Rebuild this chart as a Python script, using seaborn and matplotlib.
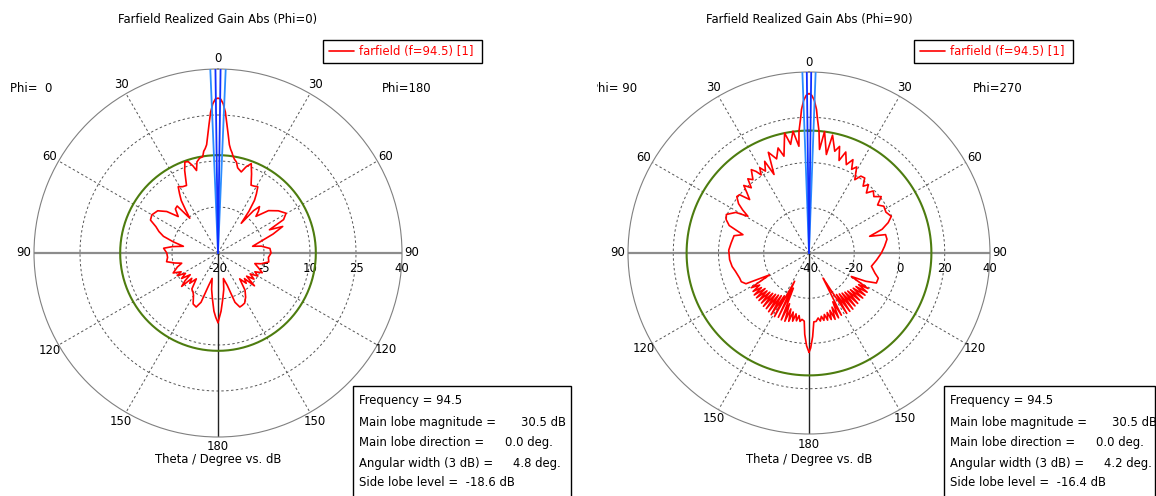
import numpy as np
import matplotlib
matplotlib.use("Agg")
import matplotlib.pyplot as plt
import seaborn as sns
import pandas as pd
from matplotlib.transforms import Bbox

sns.set_style("white")
plt.rcParams['font.family'] = ['DejaVu Sans']
plt.rcParams['text.color'] = 'black'

# ============================
# Data
# ============================
# cut Phi=0 / Phi=180 (negative angles = Phi=0 side)
theta_phi0 = [-180, -178, -176, -173, -170, -167, -164, -161, -158, -154, -150, -148, -144, -140,
              -137, -134, -132.6, -130, -128, -125, -122, -119, -117, -114, -109, -105.7, -103,
              -99.6, -95, -90, -85, -82, -79, -76, -73, -70, -67, -64, -60, -55, -51, -47.5, -44,
              -41, -39, -37, -35, -33, -31, -28, -25, -22, -20, -18, -16, -14.6, -13, -11, -9, -8,
              -7, -6, -5, -4, -3, -2, -1, 0,
              1, 2, 3, 4, 5, 6, 7, 8, 8.7, 10, 11.4, 13, 16, 18, 20.4, 23, 26, 28.5, 31, 33, 34.7,
              36.5, 38, 40, 41.8, 44, 46, 50, 55, 59.7, 63, 65.7, 67.7, 71, 75, 79, 81, 85, 90, 95,
              100, 104, 106, 110, 114, 117, 120, 123, 126, 129, 132, 134, 137, 140, 144, 148, 152,
              155, 158, 161, 164, 168, 171, 174, 177, 180]
gain_phi0 = [2.7, 1.0, -1.0, -5.0, -8.0, -11.5, -9.0, -3.0, -1.0, -1.5, -4.0, -4.7, -5.5, -9.0,
             -6.5, -8.1, -3.9, -6.0, -8.5, -5.5, -7.5, -4.8, -6.5, -4.0, -6.0, -7.7, -5.5,
             -3.0, -3.5, -3.3, -2.2, -5.0, -8.5, -5.0, -1.4, 0.5, 2.0, 4.5, 4.9, 4.0, 1.5, -2.4, 0.0,
             0.3, -5.4, -2.5, 0.9, 3.0, 5.2, 4.5, 4.3, 9.0, 11.6, 11.3, 9.5, 7.8, 10.5, 11.5, 11.8, 13.5,
             14.3, 15.5, 18.5, 22.0, 26.0, 28.7, 30.2, 30.5,
             30.2, 28.7, 26.0, 22.0, 18.5, 15.5, 14.0, 13.0, 12.1, 11.0, 10.3, 8.5, 7.5, 9.5, 11.1, 8.0,
             4.6, 4.8, 5.2, 3.0, 0.9, -3.0, -7.7, -2.0, 0.3, -1.0, -2.8, 1.5, 4.0, 5.7, 4.0, -1.6, 2.8,
             -1.0, -5.7, -8.5, -5.7, -3.0, -2.7, -3.5, -3.2, -5.5, -7.5, -6.0, -4.2, -6.5, -5.0, -7.5,
             -5.5, -8.0, -4.0, -8.0, -6.5, -9.0, -5.0, -3.0, -1.5, -1.2, -1.0, -3.0, -9.0, -11.5, -8.0,
             -5.0, -1.0, 2.7]

# cut Phi=90 / Phi=270 (negative angles = Phi=90 side)
theta_phi90 = [-180, -178.5, -177, -176, -174, -172.5, -171, -169.5, -168, -166.5, -165, -163.5,
               -162, -160.5, -159, -157.5, -156, -154.5, -153, -151.5, -150, -148.5, -147, -145.5,
               -144, -142.5, -141, -139.5, -138, -136.5, -135, -133.5, -132, -130.5, -129, -127.5,
               -126, -124.5, -123, -121, -119, -116, -113, -110, -104, -100, -94.8,
               -88, -82.7, -77, -74.5, -71, -68, -65, -61, -59, -57, -55, -52, -50, -48, -46, -44,
               -41.5, -39.5, -37.4, -34.7, -33, -31.5, -30, -28, -25.8, -24, -22, -19, -16.4,
               -14.5, -11.5, -9.6, -7.5, -5.4, -4.7, -3.5, -3, -2, -1, 0,
               1, 2, 3, 3.5, 4.7, 5.8, 7.3, 10, 11.3, 14.2, 16, 18, 20, 22.9, 25.2, 27,
               29, 32, 34, 36.6, 39, 41, 43.7, 46, 49, 52, 55, 58, 62, 66, 69, 72, 74.6, 76.5, 80, 85,
               90, 96, 102, 107, 110, 114, 116.5, 119, 121, 122.5, 124, 125.5, 127, 128.5, 130,
               131.5, 133, 134.5, 136, 137.5, 139, 140.5, 142, 143.5, 145, 146.5, 148, 149.5,
               150.8, 152.5, 154, 155.5, 157, 158.5, 160, 161.5, 163, 164.5, 166, 167.5, 169,
               170.5, 172, 174, 176, 177.5, 179, 180]
gain_phi90 = [3.9, 1.0, -4.0, -9.8, -10.5, -9.5, -12.0, -9.5, -12.5, -9.0, -13.0, -8.5,
              -14.0, -8.0, -16.0, -8.0, -23.0, -8.5, -26.0, -8.0, -18.0, -8.0, -17.5, -8.5,
              -17.0, -9.0, -16.5, -9.0, -16.0, -9.5, -15.5, -9.5, -15.0, -9.5, -15.0, -9.5,
              -14.0, -10.0, -14.0, -10.2, -20.0, -9.0, -7.5, -7.4, -6.5, -5.5, -4.8,
              -4.5, -5.3, -6.0, -9.7, -2.7, -0.5, 0.3, -3.0, -8.5, -5.0, -2.0, 0.5, 0.1,
              -4.7, -2.0, 1.5, -1.5, 2.5, 0.8, 4.8, 3.0, 0.5, 3.5, 1.0, 5.0, -2.0, 8.0, 4.0, 8.4,
              4.2, 14.1, 8.7, 14.3, 7.4, 14.0, 20.0, 23.5, 27.5, 29.7, 30.5,
              29.7, 27.5, 23.5, 20.0, 14.0, 6.0, 14.1, 4.2, 13.1, 6.4, 9.0, 3.0, 7.5, 2.4, 5.6,
              1.5, 3.5, -1.8, 1.0, 1.3, -2.0, 0.0, -3.3, -0.5, -2.0, 0.5,
              -3.0, -1.0, -1.5, -0.2, -2.5, -6.0, -12.2, -5.2, -5.0, -6.5, -8.0, -10.0, -11.8,
              -9.5, -7.4, -7.4, -12.0, -18.6, -9.5, -14.0, -9.0, -14.5, -9.0, -15.0, -9.0,
              -15.5, -9.5, -16.0, -9.0, -16.5, -9.0, -17.0, -8.5, -17.5, -8.5, -18.0, -8.5,
              -21.0, -27.3, -9.0, -16.0, -8.5, -14.0, -8.5, -13.0, -9.0, -12.5, -9.2, -12.0,
              -9.5, -11.5, -9.5, -11.0, -9.6, -9.5, -3.0, 2.0, 3.9]

panels = [
    dict(title="Farfield Realized Gain Abs (Phi=0)", theta=theta_phi0, gain=gain_phi0,
         rmin=-20, rmax=40, rings=[-5, 10, 25], rlabels=["-20", "-5", "10", "25", "40"],
         side=11.9, width=4.8, left="Phi=  0", right="Phi=180", left_dx=-208,
         info=["Frequency = 94.5", "Main lobe magnitude =", "Main lobe direction =",
               "Angular width (3 dB) =", "Side lobe level =  -18.6 dB"],
         vals=["30.5 dB", "0.0 deg.", "4.8 deg."]),
    dict(title="Farfield Realized Gain Abs (Phi=90)", theta=theta_phi90, gain=gain_phi90,
         rmin=-40, rmax=40, rings=[-20, 0, 20], rlabels=["-40", "-20", "0", "20", "40"],
         side=14.1, width=4.2, left="Phi= 90", right="Phi=270", left_dx=-218,
         info=["Frequency = 94.5", "Main lobe magnitude =", "Main lobe direction =",
               "Angular width (3 dB) =", "Side lobe level =  -16.4 dB"],
         vals=["30.5 dB", "0.0 deg.", "4.2 deg."]),
]
theta_ticks = [0, 30, 60, 90, 120, 150, 180, 210, 240, 270, 300, 330]
theta_ticklabels = ["0", "30", "60", "90", "120", "150", "180", "150", "120", "90", "60", "30"]

W, H = 1156, 496
fig = plt.figure(figsize=(W / 100, H / 100), dpi=100)
fig.patch.set_facecolor("white")

centers = [(218, 253, 184), (809, 253, 181)]
fs = 8.4
full = np.linspace(0, 2 * np.pi, 361)

for p, (cx, cy, R) in zip(panels, centers):
    ax = fig.add_axes([(cx - R) / W, (H - cy - R) / H, 2 * R / W, 2 * R / H], projection="polar")
    ax.set_theta_zero_location("N")
    ax.set_theta_direction(-1)
    ax.set_rlim(p["rmin"], p["rmax"])
    ax.grid(False)
    ax.set_xticks([])
    ax.set_yticks([])
    ax.spines["polar"].set_color("#808080")
    ax.spines["polar"].set_linewidth(0.8)
    ax.patch.set_alpha(0)

    # dashed rings and spokes
    for v in p["rings"]:
        ax.plot(full, [v] * len(full), color="#555555", lw=0.7, ls=(0, (2.5, 2.5)), zorder=1)
    for a in [30, 60, 120, 150, 210, 240, 300, 330]:
        ax.plot([np.radians(a)] * 2, [p["rmin"], p["rmax"]], color="#555555", lw=0.7,
                ls=(0, (2.5, 2.5)), zorder=1)
    ax.plot([np.pi / 2] * 2, [p["rmin"], p["rmax"]], color="#8c8c8c", lw=1.6, zorder=1)
    ax.plot([3 * np.pi / 2] * 2, [p["rmin"], p["rmax"]], color="#8c8c8c", lw=1.6, zorder=1)
    ax.plot([np.pi] * 2, [p["rmin"], p["rmax"]], color="#222222", lw=1.0, zorder=1)

    # side lobe level circle
    ax.plot(full, [p["side"]] * len(full), color="#4d7c0f", lw=1.5, zorder=2)

    # farfield curve
    df = pd.DataFrame({"theta": np.radians(p["theta"]), "gain": p["gain"]})
    sns.lineplot(data=df, x="theta", y="gain", ax=ax, color="#ff0000", lw=1.2,
                 estimator=None, sort=False, zorder=3)
    ax.set_xlabel("")
    ax.set_ylabel("")

    # main lobe / beam width markers
    hw = np.radians(p["width"] / 2)
    for a in (-hw, hw):
        ax.plot([a, a], [p["rmin"], p["rmax"]], color="#2a8cff", lw=1.3, zorder=4)
    for a in (-hw / 3, hw / 3):
        ax.plot([a, a], [p["rmin"], p["rmax"]], color="#1030ff", lw=1.3, zorder=4)

    # theta labels
    rl = p["rmax"] + (p["rmax"] - p["rmin"]) * 10 / R
    for t, lab in zip(theta_ticks, theta_ticklabels):
        ax.text(np.radians(t), rl, lab, ha="center", va="center", fontsize=fs, clip_on=False)

    # radial labels under the curve
    for v, lab in zip([p["rmin"]] + p["rings"] + [p["rmax"]], p["rlabels"]):
        ax.annotate(lab, xy=(np.pi / 2, v), xytext=(0, -11), textcoords="offset points",
                    ha="center", va="center", fontsize=fs, zorder=1.5, annotation_clip=False)

    # titles and side texts
    fig.text(cx / W, 1 - 20 / H, p["title"], ha="center", va="center", fontsize=fs)
    fig.text(cx / W, 1 - 460 / H, "Theta / Degree vs. dB", ha="center", va="center", fontsize=fs)
    tl = fig.text((cx + p["left_dx"]) / W, 1 - 88 / H, p["left"], ha="left", va="center",
                  fontsize=fs)
    tl.set_clip_box(Bbox([[cx - 212, 0], [W, H]]))
    tl.set_clip_on(True)
    fig.text((cx + 164) / W, 1 - 88 / H, p["right"], ha="left", va="center", fontsize=fs)

    # legend box
    lx0, lx1, ly0, ly1 = cx + 105, cx + 264, 40, 63
    fig.patches.append(plt.Rectangle((lx0 / W, 1 - ly1 / H), (lx1 - lx0) / W, (ly1 - ly0) / H,
                                     transform=fig.transFigure, fill=False, ec="black", lw=1.0))
    fig.lines.append(plt.Line2D([(lx0 + 6) / W, (lx0 + 31) / W], [1 - 51 / H] * 2,
                                transform=fig.transFigure, color="#ff0000", lw=1.2))
    fig.text((lx0 + 36) / W, 1 - 51 / H, "farfield (f=94.5) [1]", color="#ff0000",
             ha="left", va="center", fontsize=fs)

    # info box
    bx0 = cx + 135
    bx1 = min(cx + 353, W - 1)
    fig.patches.append(plt.Rectangle((bx0 / W, -0.01), (bx1 - bx0) / W, 1 - 385.7 / H + 0.01,
                                     transform=fig.transFigure, fc="white", ec="black", lw=1.0,
                                     zorder=5))
    ys = [400.7, 422.3, 442.7, 463.3, 482.7]
    for y, line in zip(ys, p["info"]):
        fig.text((bx0 + 6) / W, 1 - y / H, line, ha="left", va="center", fontsize=fs, zorder=6)
    for y, v, off in zip(ys[1:4], p["vals"], [168, 152, 160]):
        fig.text((bx0 + off) / W, 1 - y / H, v, ha="left", va="center", fontsize=fs, zorder=6)

fig.savefig("out.png", dpi=100)
